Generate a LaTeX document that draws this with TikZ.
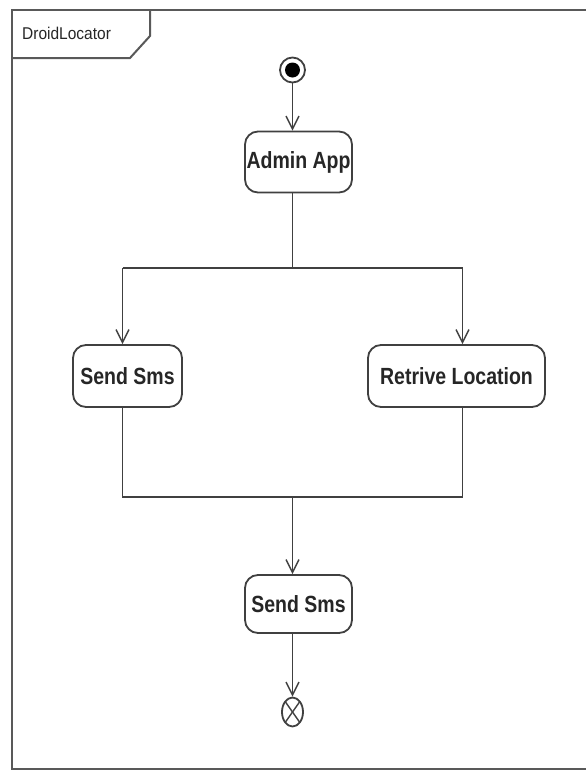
\documentclass[tikz,border=0pt]{standalone}
\usepackage{fontspec}
\usepackage{graphicx}
\setmainfont{Liberation Sans}
\usetikzlibrary{arrows.meta,shapes.geometric}
\tikzset{
  ln/.style={draw=black!75, line width=1.8pt},
  arr/.style={ln, -{Straight Barb[length=13pt,width=13pt,line width=1.4pt]}},
  act/.style={ln, rounded corners=13pt, inner sep=0pt, fill=white,
     font=\fontsize{19.5}{24}\selectfont\bfseries, text=black!85},
  framebox/.style={draw=black!65, line width=2pt},
}
\newcommand{\tallt}[1]{\scalebox{1}[1.2]{#1}}
\begin{document}
\begin{tikzpicture}[x=1pt,y=-1pt]
\useasboundingbox (0,0) rectangle (586,772);
% frame
\draw[framebox] (590,10) -- (12,10) -- (12,769) -- (590,769);
\draw[framebox] (12,58) -- (130,58) -- (150,36) -- (150,10);
\node[anchor=west, inner sep=0pt, font=\fontsize{15.5}{18}\selectfont, text=black!85] (title) at (22,33) {\scalebox{1}[1.1]{DroidLocator}};
% initial node
\node[circle, ln, minimum size=25pt, inner sep=0pt] (init) at (292.5,70) {};
\node[circle, fill=black, minimum size=15pt, inner sep=0pt] (initdot) at (292.5,70) {};
% activities
\node[act, minimum width=107pt, minimum height=61pt] (admin) at (298.5,162) {\tallt{Admin App}};
\node[act, minimum width=109pt, minimum height=62pt] (sms1) at (127.5,376) {\tallt{Send Sms}};
\node[act, minimum width=177pt, minimum height=62pt] (ret) at (456.5,376) {\tallt{Retrive Location}};
\node[act, minimum width=107pt, minimum height=58pt] (sms2) at (298.5,604) {\tallt{Send Sms}};
% final node
\node[ellipse, ln, minimum width=21pt, minimum height=29pt, inner sep=0pt] (final) at (292.5,712) {};
\draw[ln, line width=1.4pt] ([xshift=-7pt,yshift=10pt]final.center) -- ([xshift=7pt,yshift=-10pt]final.center);
\draw[ln, line width=1.4pt] ([xshift=7pt,yshift=10pt]final.center) -- ([xshift=-7pt,yshift=-10pt]final.center);
% coordinates
\coordinate (fork) at (292.5,268);
\coordinate (fl) at (122.5,268);
\coordinate (fr) at (462.5,268);
\coordinate (join) at (292.5,497);
\coordinate (jl) at (122.5,497);
\coordinate (jr) at (462.5,497);
% connectors
\draw[arr] (init) -- (init |- admin.north);
\draw[ln] (fork |- admin.south) -- (fork);
\draw[ln] (fl) -- (fr);
\draw[arr] (fl) -- (fl |- sms1.north);
\draw[arr] (fr) -- (fr |- ret.north);
\draw[ln] (jl |- sms1.south) -- (jl) -- (jr) -- (jr |- ret.south);
\draw[arr] (join) -- (join |- sms2.north);
\draw[arr] (join |- sms2.south) -- (final);
\end{tikzpicture}
\end{document}
